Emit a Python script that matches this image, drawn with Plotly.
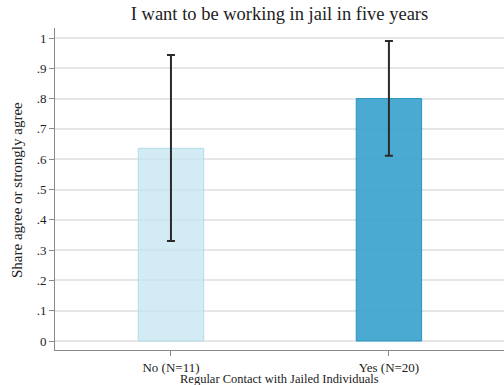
import plotly.graph_objects as go

# Share of respondents who agree, with 95% confidence bounds
groups = ["No (N=11)", "Yes (N=20)"]
share = [0.636, 0.80]
ci_low = [0.330, 0.611]
ci_high = [0.944, 0.990]

fill_colors = ["rgba(196,228,240,0.75)", "rgba(60,163,206,0.92)"]
edge_colors = ["#b3dcea", "#2b93c3"]

y_ticks = [i / 10 for i in range(11)]
y_tick_text = ["0", ".1", ".2", ".3", ".4", ".5", ".6", ".7", ".8", ".9", "1"]

serif = "Liberation Serif, Times New Roman, serif"

fig = go.Figure()
fig.add_trace(go.Bar(
    x=[0, 1],
    y=share,
    width=0.3,
    marker=dict(color=fill_colors, line=dict(color=edge_colors, width=1)),
    error_y=dict(
        type="data",
        symmetric=False,
        array=[h - s for h, s in zip(ci_high, share)],
        arrayminus=[s - l for s, l in zip(share, ci_low)],
        color="#2a2a2a",
        thickness=2,
        width=4,
    ),
    showlegend=False,
))

fig.update_layout(
    width=504,
    height=385,
    margin=dict(l=55, r=0, t=28, b=35),
    paper_bgcolor="white",
    plot_bgcolor="white",
    font=dict(family=serif, color="#222222", size=13),
    title=dict(
        text="I want to be working in jail in five years",
        x=(55 + 449 / 2) / 504,
        xanchor="center",
        y=1 - 14 / 385,
        yanchor="middle",
        font=dict(family=serif, size=18.5, color="#222222"),
    ),
    xaxis=dict(
        range=[-0.532, 1.528],
        tickmode="array",
        tickvals=[0, 1],
        ticktext=groups,
        ticks="outside",
        ticklen=5,
        tickcolor="#888888",
        showline=True,
        linecolor="#888888",
        linewidth=1,
        showgrid=False,
        zeroline=False,
        tickfont=dict(family=serif, size=13, color="#222222"),
    ),
    yaxis=dict(
        range=[-0.0297, 1.033],
        tickmode="array",
        tickvals=y_ticks,
        ticktext=y_tick_text,
        ticks="outside",
        ticklen=5,
        tickcolor="#888888",
        showline=True,
        linecolor="#888888",
        linewidth=1,
        showgrid=True,
        gridcolor="#e6e6e6",
        gridwidth=1.5,
        zeroline=False,
        tickfont=dict(family=serif, size=13, color="#222222"),
    ),
)

fig.add_annotation(
    text="Regular Contact with Jailed Individuals",
    xref="paper", yref="paper",
    x=0.5, y=-(379 - 350) / 322,
    xanchor="center", yanchor="middle",
    showarrow=False,
    font=dict(family=serif, size=12.5, color="#222222"),
)
fig.add_annotation(
    text="Share agree or strongly agree",
    xref="paper", yref="paper",
    x=-(55 - 17) / 449, y=(350 - 190) / 322,
    xanchor="center", yanchor="middle",
    textangle=-90,
    showarrow=False,
    font=dict(family=serif, size=15, color="#222222"),
)

fig.write_html("out.html")
